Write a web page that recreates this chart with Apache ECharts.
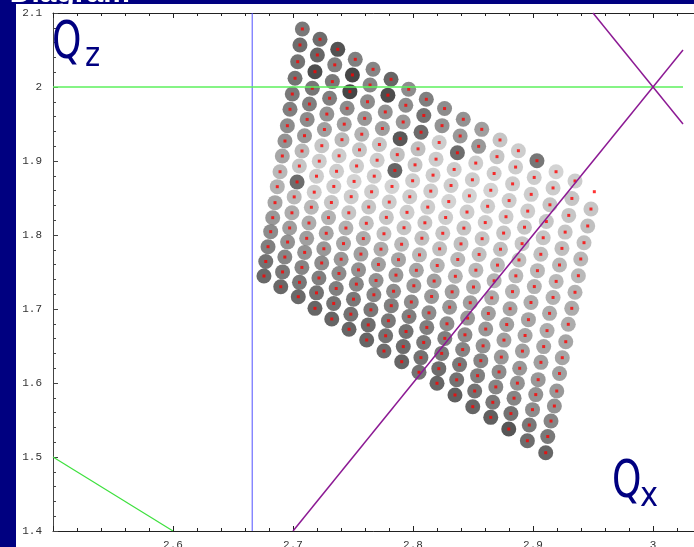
<!DOCTYPE html>
<html>
<head>
<meta charset="utf-8">
<script src="https://cdn.jsdelivr.net/npm/echarts@6/dist/echarts.min.js"></script>
<style>
  html, body { margin: 0; padding: 0; background: #000080; }
  #page { position: relative; width: 694px; height: 547px; overflow: hidden; background: #000080; }
  #sheet { position: absolute; left: 16px; top: 4px; right: 0; bottom: 0; background: #ffffff; }
  #chart { position: absolute; left: 0; top: 0; width: 694px; height: 547px; }
</style>
</head>
<body>
<div id="page"><div id="sheet"></div><div id="chart"></div></div>
<script>
// Tune footprint: 17 x 17 amplitude grid, one row per list (Qx, Qz, diffusion gray level)
const qxRows = [
  [2.7078,2.7225,2.7373,2.7519,2.7667,2.7817,2.7964,2.8111,2.8263,2.8419,2.8573,2.8725,2.8878,2.9033,2.9192,2.9350,2.9511],
  [2.7058,2.7203,2.7348,2.7495,2.7642,2.7791,2.7940,2.8090,2.8242,2.8393,2.8547,2.8700,2.8855,2.9010,2.9167,2.9324,2.9483],
  [2.7039,2.7183,2.7328,2.7474,2.7621,2.7769,2.7918,2.8067,2.8218,2.8370,2.8523,2.8676,2.8830,2.8985,2.9141,2.9298,2.9456],
  [2.7017,2.7161,2.7305,2.7451,2.7597,2.7745,2.7893,2.8042,2.8192,2.8343,2.8495,2.8648,2.8801,2.8956,2.9111,2.9268,2.9425],
  [2.6994,2.7137,2.7282,2.7427,2.7573,2.7720,2.7869,2.8017,2.8167,2.8317,2.8470,2.8622,2.8775,2.8929,2.9085,2.9241,2.9398],
  [2.6975,2.7118,2.7262,2.7408,2.7554,2.7701,2.7849,2.7997,2.8148,2.8298,2.8450,2.8602,2.8755,2.8909,2.9065,2.9221,2.9378],
  [2.6953,2.7096,2.7240,2.7384,2.7530,2.7677,2.7825,2.7973,2.8123,2.8272,2.8424,2.8576,2.8729,2.8883,2.9037,2.9193,2.9350],
  [2.6933,2.7075,2.7219,2.7363,2.7509,2.7655,2.7802,2.7950,2.8099,2.8248,2.8400,2.8551,2.8704,2.8857,2.9011,2.9167,2.9323],
  [2.6911,2.7053,2.7196,2.7340,2.7485,2.7631,2.7778,2.7925,2.8074,2.8222,2.8373,2.8524,2.8676,2.8829,2.8983,2.9138,2.9294],
  [2.6892,2.7034,2.7177,2.7320,2.7465,2.7611,2.7758,2.7905,2.8054,2.8202,2.8353,2.8504,2.8656,2.8809,2.8962,2.9117,2.9273],
  [2.6869,2.7010,2.7153,2.7296,2.7441,2.7586,2.7733,2.7879,2.8028,2.8176,2.8326,2.8477,2.8628,2.8781,2.8934,2.9089,2.9244],
  [2.6850,2.6991,2.7133,2.7277,2.7421,2.7566,2.7712,2.7858,2.8007,2.8155,2.8305,2.8455,2.8606,2.8758,2.8912,2.9066,2.9221],
  [2.6831,2.6972,2.7114,2.7257,2.7401,2.7546,2.7692,2.7838,2.7986,2.8133,2.8283,2.8433,2.8584,2.8736,2.8889,2.9043,2.9198],
  [2.6814,2.6955,2.7097,2.7239,2.7383,2.7528,2.7674,2.7819,2.7967,2.8115,2.8265,2.8414,2.8565,2.8717,2.8870,2.9023,2.9178],
  [2.6792,2.6932,2.7074,2.7216,2.7360,2.7504,2.7649,2.7795,2.7942,2.8089,2.8239,2.8388,2.8538,2.8690,2.8842,2.8996,2.9150],
  [2.6773,2.6913,2.7054,2.7196,2.7339,2.7482,2.7627,2.7772,2.7919,2.8066,2.8215,2.8364,2.8514,2.8665,2.8816,2.8969,2.9123],
  [2.6758,2.6898,2.7044,2.7183,2.7323,2.7467,2.7614,2.7758,2.7906,2.8050,2.8200,2.8350,2.8498,2.8648,2.8798,2.8953,2.9106]
];
const qzRows = [
  [2.0784,2.0645,2.0509,2.0374,2.0239,2.0104,1.9969,1.9834,1.9709,1.9564,1.9428,1.9284,1.9139,1.9004,1.8855,1.8730,1.8585],
  [2.0568,2.0433,2.0299,2.0163,2.0027,1.9890,1.9753,1.9615,1.9478,1.9338,1.9198,1.9059,1.8918,1.8778,1.8636,1.8494,1.8351],
  [2.0342,2.0207,2.0073,1.9937,1.9801,1.9663,1.9527,1.9389,1.9250,1.9111,1.8972,1.8831,1.8691,1.8549,1.8408,1.8265,1.8122],
  [2.0118,1.9983,1.9848,1.9712,1.9576,1.9439,1.9302,1.9164,1.9025,1.8886,1.8746,1.8605,1.8465,1.8323,1.8182,1.8039,1.7896],
  [1.9905,1.9770,1.9634,1.9498,1.9362,1.9223,1.9086,1.8948,1.8809,1.8669,1.8529,1.8388,1.8247,1.8105,1.7963,1.7819,1.7676],
  [1.9699,1.9562,1.9426,1.9288,1.9151,1.9011,1.8873,1.8733,1.8593,1.8452,1.8310,1.8168,1.8026,1.7883,1.7739,1.7595,1.7450],
  [1.9477,1.9342,1.9207,1.9070,1.8933,1.8795,1.8656,1.8517,1.8377,1.8236,1.8093,1.7950,1.7808,1.7663,1.7518,1.7373,1.7226],
  [1.9270,1.9135,1.8998,1.8861,1.8724,1.8584,1.8445,1.8306,1.8165,1.8023,1.7880,1.7737,1.7593,1.7448,1.7303,1.7156,1.7009],
  [1.9068,1.8932,1.8795,1.8656,1.8518,1.8378,1.8238,1.8098,1.7956,1.7813,1.7669,1.7525,1.7381,1.7235,1.7088,1.6941,1.6793],
  [1.8855,1.8717,1.8579,1.8439,1.8300,1.8158,1.8017,1.7875,1.7732,1.7588,1.7442,1.7297,1.7151,1.7004,1.6856,1.6708,1.6558],
  [1.8653,1.8515,1.8375,1.8235,1.8094,1.7952,1.7809,1.7667,1.7523,1.7378,1.7232,1.7085,1.6939,1.6790,1.6642,1.6492,1.6342],
  [1.8437,1.8300,1.8162,1.8023,1.7884,1.7742,1.7601,1.7458,1.7314,1.7169,1.7024,1.6877,1.6729,1.6580,1.6431,1.6279,1.6128],
  [1.8234,1.8095,1.7955,1.7814,1.7673,1.7529,1.7386,1.7240,1.7095,1.6948,1.6800,1.6651,1.6502,1.6350,1.6199,1.6045,1.5892],
  [1.8045,1.7905,1.7765,1.7622,1.7480,1.7336,1.7192,1.7045,1.6899,1.6751,1.6603,1.6452,1.6302,1.6150,1.5998,1.5843,1.5689],
  [1.7842,1.7702,1.7562,1.7419,1.7277,1.7133,1.6989,1.6842,1.6696,1.6548,1.6400,1.6249,1.6099,1.5947,1.5795,1.5640,1.5486],
  [1.7642,1.7501,1.7360,1.7218,1.7075,1.6930,1.6785,1.6638,1.6492,1.6343,1.6194,1.6043,1.5892,1.5739,1.5587,1.5432,1.5277],
  [1.7446,1.7301,1.7166,1.7009,1.6865,1.6726,1.6581,1.6432,1.6288,1.6145,1.5996,1.5838,1.5680,1.5536,1.5378,1.5220,1.5058]
];
// gray level of each footprint disc (0 = black, 255 = white)
const grayRows = [
  [88,72,40,96,104,64,112,96,112,120,136,184,192,85,200,192,255],
  [72,64,96,24,104,32,112,80,120,128,128,184,192,192,192,184,184],
  [80,32,88,24,112,120,128,72,192,72,192,192,192,192,184,184,176],
  [80,85,96,112,128,136,48,176,192,192,192,200,192,192,184,184,176],
  [88,96,120,136,160,184,176,184,192,192,200,192,192,184,184,176,168],
  [96,112,136,168,184,192,64,192,192,200,192,192,184,184,176,168,168],
  [112,128,184,192,192,192,200,192,192,192,184,184,176,176,168,168,160],
  [120,168,192,192,200,192,192,192,184,184,176,176,168,168,160,160,152],
  [144,184,192,192,192,184,184,184,176,176,168,168,160,160,152,152,152],
  [168,72,192,184,184,176,176,168,168,160,160,152,152,144,144,152,144],
  [160,168,168,160,160,152,152,144,144,136,136,136,136,136,144,144,144],
  [144,152,152,144,144,136,136,128,128,128,128,128,128,136,136,136,136],
  [128,136,136,128,128,120,120,112,112,112,112,112,120,128,128,128,128],
  [112,120,120,112,112,104,104,96,96,96,96,104,104,112,120,120,120],
  [96,104,104,96,96,88,88,88,80,88,88,88,96,104,104,112,104],
  [80,88,88,80,80,80,72,80,72,80,72,80,80,88,80,88,88],
  [68,68,68,64,64,64,64,72,64,80,64,56,64,56,44,72,64]
];

// reference lines: working-point marker, integer / resonance lines
const qxMarker = 2.666;
const integerLineQz = [[2.5, 2.0], [3.025, 2.0]];
const sumResonance = [[2.5, 1.5], [2.6, 1.4]];
const diffResonanceUp = [[2.7, 1.4], [3.025, 2.05]];
const diffResonanceDown = [[2.95, 2.1], [3.025, 1.95]];

const qxRange = [2.5, 3.1];
const qzRange = [1.4, 2.1];

const discs = [];
const tunes = [];
for (let i = 0; i < qxRows.length; i++) {
  for (let j = 0; j < qxRows[i].length; j++) {
    const g = grayRows[i][j];
    discs.push({ value: [qxRows[i][j], qzRows[i][j]], itemStyle: { color: 'rgb(' + g + ',' + g + ',' + g + ')' } });
    tunes.push([qxRows[i][j], qzRows[i][j]]);
  }
}

const axisInk = '#222';
const labelFont = { color: '#333', fontFamily: '"Liberation Mono", monospace', fontSize: 11 };
const symbolFont = '"DejaVu Sans"';

const chart = echarts.init(document.getElementById('chart'), null, { renderer: 'canvas' });
chart.setOption({
  animation: false,
  backgroundColor: 'transparent',
  grid: { left: 53, top: 13, right: -79, bottom: 16, containLabel: false, outerBoundsMode: 'none' },
  xAxis: [
    {
      type: 'value', min: qxRange[0], max: qxRange[1], interval: 0.1, position: 'bottom',
      axisLine: { onZero: false, lineStyle: { color: axisInk, width: 1 } },
      axisTick: { inside: true, length: 5, lineStyle: { color: axisInk } },
      minorTick: { show: true, splitNumber: 5, length: 3, lineStyle: { color: axisInk } },
      axisLabel: Object.assign({ margin: 9, showMinLabel: false }, labelFont),
      splitLine: { show: false }
    },
    {
      type: 'value', min: qxRange[0], max: qxRange[1], interval: 0.1, position: 'top',
      axisLine: { onZero: false, lineStyle: { color: axisInk, width: 1 } },
      axisTick: { inside: true, length: 5, lineStyle: { color: axisInk } },
      minorTick: { show: true, splitNumber: 5, length: 3, lineStyle: { color: axisInk } },
      axisLabel: { show: false },
      splitLine: { show: false }
    }
  ],
  yAxis: {
    type: 'value', min: qzRange[0], max: qzRange[1], interval: 0.1,
    axisLine: { onZero: false, lineStyle: { color: '#444', width: 1 } },
    axisTick: { inside: true, length: 5, lineStyle: { color: '#444' } },
    minorTick: { show: true, splitNumber: 5, length: 3, lineStyle: { color: '#444' } },
    axisLabel: Object.assign({ margin: 11 }, labelFont),
    splitLine: { show: false }
  },
  series: [
    { type: 'scatter', symbol: 'circle', symbolSize: 15, data: discs, z: 2, silent: true },
    { type: 'scatter', symbol: 'rect', symbolSize: 3, data: tunes, itemStyle: { color: '#ff0000' }, z: 3, silent: true },
    { type: 'line', data: [[qxMarker, qzRange[0]], [qxMarker, qzRange[1]]], showSymbol: false, lineStyle: { color: '#5050ff', width: 1 }, z: 4, silent: true },
    { type: 'line', data: integerLineQz, showSymbol: false, lineStyle: { color: '#5cf05c', width: 1.5 }, z: 4, silent: true },
    { type: 'line', data: sumResonance, showSymbol: false, lineStyle: { color: '#3ee03e', width: 1.2 }, z: 4, silent: true },
    { type: 'line', data: diffResonanceUp, showSymbol: false, lineStyle: { color: '#8c1a94', width: 1.5 }, z: 4, silent: true },
    { type: 'line', data: diffResonanceDown, showSymbol: false, lineStyle: { color: '#8c1a94', width: 1.5 }, z: 4, silent: true }
  ],
  graphic: [
    { type: 'text', x: -68, y: -21, z: 10, style: { text: 'Tune Diagram', font: 'bold 30px "Liberation Sans"', fill: '#ffffff', textVerticalAlign: 'top' } },
    { type: 'text', x: 52, y: 18, scaleX: 0.72, z: 10, style: { text: 'Q', font: '52px ' + symbolFont, fill: '#000080', textVerticalAlign: 'top' } },
    { type: 'text', x: 85, y: 40, scaleX: 0.85, z: 10, style: { text: 'z', font: '34px ' + symbolFont, fill: '#000080', textVerticalAlign: 'top' } },
    { type: 'text', x: 612, y: 457, scaleX: 0.72, z: 10, style: { text: 'Q', font: '52px ' + symbolFont, fill: '#000080', textVerticalAlign: 'top' } },
    { type: 'text', x: 640, y: 480, scaleX: 0.9, z: 10, style: { text: 'x', font: '34px ' + symbolFont, fill: '#000080', textVerticalAlign: 'top' } }
  ]
});
</script>
</body>
</html>
